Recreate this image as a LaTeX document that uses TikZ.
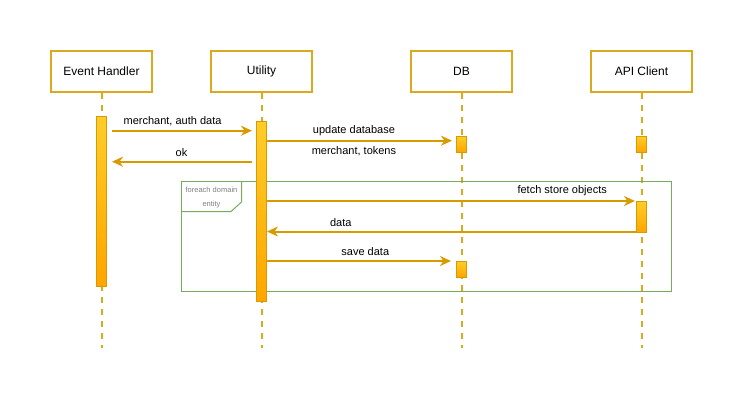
\documentclass[tikz,border=0pt]{standalone}
\usepackage{fontspec}
\setmainfont{Liberation Sans}
\usepackage{tikz}
\usetikzlibrary{calc}
\usetikzlibrary{positioning}
\usetikzlibrary{arrows.meta}

\definecolor{boxgold}{RGB}{218,170,30}
\definecolor{msggold}{RGB}{215,155,0}
\definecolor{barline}{RGB}{215,155,0}
\definecolor{bartop}{RGB}{255,205,40}
\definecolor{barbottom}{RGB}{255,165,0}
\definecolor{framegreen}{RGB}{120,172,90}

\tikzset{
	actor/.style={draw=boxgold, line width=2pt, fill=white, minimum width=101pt, minimum height=41pt, inner sep=0pt, font=\fontsize{12}{14}\selectfont},
	lifeline/.style={draw=boxgold, line width=2pt, dash pattern=on 6pt off 6pt},
	actbar/.style={draw=barline, line width=1pt, top color=bartop, bottom color=barbottom, minimum width=10pt, inner sep=0pt, anchor=north},
	msg/.style={draw=msggold, line width=2pt, -{Stealth[length=11pt, width=10pt, inset=3.5pt]}},
	msglabel/.style={font=\fontsize{11}{13}\selectfont, inner sep=1pt},
	loopframe/.style={draw=framegreen, line width=1pt},
}

\begin{document}
\begin{tikzpicture}[x=1pt, y=-1pt]
	\useasboundingbox (0,0) rectangle (742,402);

	% participants
	\node[actor] (eh) at (101.5,71.5) {Event Handler};
	\node[actor] (ut) at (261.5,71.5) {Utility};
	\node[actor] (db) at (461.5,71.5) {DB};
	\node[actor] (api) at (641.5,71.5) {API Client};

	% lifeline ends
	\coordinate (ehEnd) at (101.5,348);
	\coordinate (utEnd) at (261.5,348);
	\coordinate (dbEnd) at (461.5,348);
	\coordinate (apiEnd) at (641.5,348);

	\draw[lifeline] (eh.south) -- (ehEnd);
	\draw[lifeline] (ut.south) -- (utEnd);
	\draw[lifeline] (db.south) -- (dbEnd);
	\draw[lifeline] (api.south) -- (apiEnd);

	% loop frame
	\draw[loopframe] (181.5,181.5) rectangle (671.5,291.5);
	\draw[loopframe] (181.5,211.5) -- (231,211.5) -- (241.5,202) -- (241.5,181.5);
	\node[font=\fontsize{7.5}{14}\selectfont, text=gray, align=center] (looptxt) at (211.5,197.5) {foreach domain\\entity};

	% activation bars
	\node[actbar, minimum height=170pt] (ehBar) at (101.5,116) {};
	\node[actbar, minimum height=180pt] (utBar) at (261.5,121) {};
	\node[actbar, minimum height=15.5pt] (dbBar) at (461.5,136) {};
	\node[actbar, minimum height=15.5pt] (apiBar) at (641.5,136) {};
	\node[actbar, minimum height=31pt] (apiBarB) at (641.5,200.7) {};
	\node[actbar, minimum height=16pt] (dbBarB) at (461.5,260.7) {};

	% message levels
	\coordinate (m1) at (0,130.7);
	\coordinate (m2) at (0,161.7);
	\coordinate (m3) at (0,140.7);
	\coordinate (m4) at (0,201);
	\coordinate (m5) at (0,231.5);
	\coordinate (m6) at (0,261);

	\draw[msg, shorten <=5pt, shorten >=4pt] (ehBar.east |- m1) -- (utBar.west |- m1) node[msglabel, pos=0.44, above=3pt] () {merchant, auth data};
	\draw[msg, shorten <=4pt, shorten >=5pt] (utBar.west |- m2) -- (ehBar.east |- m2) node[msglabel, midway, above=3pt] () {ok};
	\draw[msg, shorten >=4pt] (utBar.east |- m3) -- (dbBar.west |- m3) node[msglabel, pos=0.46, above=3pt] () {update database} node[msglabel, pos=0.46, below=4pt] () {merchant, tokens};
	\draw[msg, shorten >=1pt] (utBar.east |- m4) -- (apiBarB.west |- m4) node[msglabel, pos=0.8, above=3pt] () {fetch store objects};
	\draw[msg] (apiBarB.west |- m5) -- (utBar.east |- m5) node[msglabel, pos=0.8, above=3pt] () {data};
	\draw[msg, shorten >=5pt] (utBar.east |- m6) -- (dbBarB.west |- m6) node[msglabel, pos=0.52, above=3pt] () {save data};
\end{tikzpicture}
\end{document}
